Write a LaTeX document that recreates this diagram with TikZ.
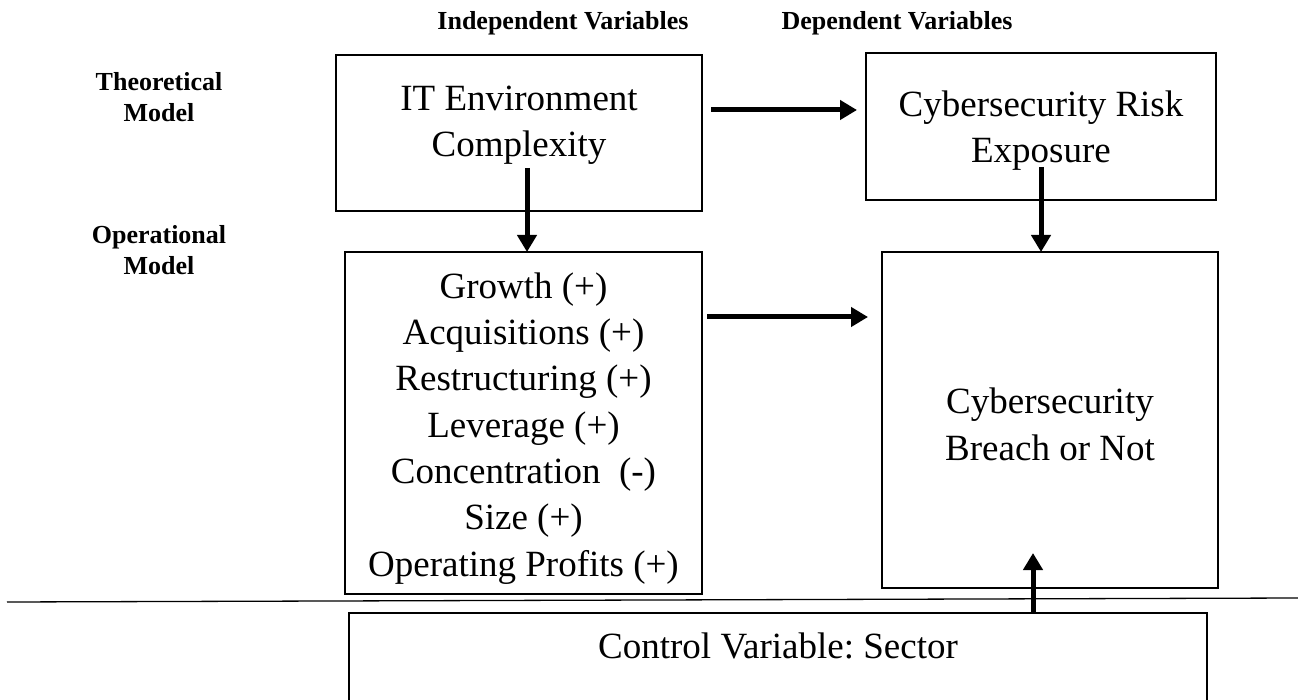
\documentclass[tikz,border=0pt]{standalone}
\usepackage{fontspec}
\setmainfont{Liberation Serif}
\usetikzlibrary{arrows.meta,positioning}
\frenchspacing
\newcommand\bigtxt{\fontsize{37}{46.3}\selectfont}
\newcommand\hdtxt{\fontsize{26}{31.5}\selectfont\bfseries}
\tikzset{
  box/.style={draw,line width=1.6pt,inner sep=0pt,outer sep=0pt},
  lbl/.style={align=center,inner sep=0pt,font=\bigtxt,anchor=base},
  hd/.style={align=center,inner sep=0pt,font=\hdtxt,anchor=base},
  arr/.style={line width=5pt,-{Triangle[width=19pt,length=17pt]}},
}
\begin{document}
\begin{tikzpicture}[x=1pt,y=-1pt]
    \useasboundingbox (0,0) rectangle (1298,700);

    % headings (base = last line)
    \node[hd] (indep) at (563,30) {Independent Variables};
    \node[hd] (dep) at (897,30) {Dependent Variables};
    \node[hd] (theo) at (159,122) {Theoretical\\Model};
    \node[hd] (oper) at (159,275) {Operational\\Model};

    % theoretical model
    \node[box,minimum width=366pt,minimum height=156pt] (itbox) at (519,133) {};
    \node[lbl] (it) at (519,157) {IT Environment\\Complexity};
    \node[box,minimum width=350pt,minimum height=147pt] (risk) at (1041,126.5) {};
    \node[lbl] (risktxt) at (1041,163) {Cybersecurity Risk\\Exposure};

    % operational model
    \node[box,minimum width=357pt,minimum height=342pt] (growth) at (523.5,423) {};
    \node[lbl] (growthtxt) at (523.5,576) {Growth (+)\\Acquisitions (+)\\Restructuring (+)\\
      Leverage (+)\\Concentration~ (-)\\Size (+)\\Operating Profits (+)};
    \node[box,minimum width=336pt,minimum height=336pt] (breach) at (1050,420) {};
    \node[lbl] (breachtxt) at (1050,460) {Cybersecurity\\Breach or Not};

    % control
    \draw[line width=1.3pt] (7,602) -- (1298,598);
    \node[box,minimum width=858pt,minimum height=110pt] (ctrl) at (778,668) {};
    \node[lbl] (ctrltxt) at (778,658) {Control Variable: Sector};

    \coordinate (itright) at (711,110);
    \coordinate (itdown) at (527,168);
    \coordinate (growthright) at (707,317);
    \coordinate (riskdown) at (1041,167);
    \coordinate (breachin) at (1033,553);

    \draw[arr] (itright) -- ([xshift=-9pt]risk.west |- itright);
    \draw[arr] (itdown) -- (itdown |- growth.north);
    \draw[arr] (riskdown) -- (riskdown |- breach.north);
    \draw[arr] (growthright) -- ([xshift=-14pt]breach.west |- growthright);
    \draw[arr] (breachin |- ctrl.north) -- (breachin);
\end{tikzpicture}
\end{document}
